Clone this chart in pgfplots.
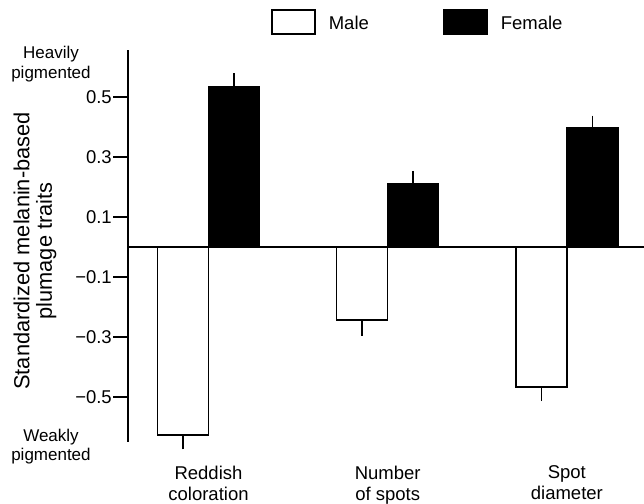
\documentclass[border=0pt]{standalone}
\usepackage{fontspec}
\setmainfont{Liberation Sans}
\usepackage{pgfplots}
\pgfplotsset{compat=1.18}

\begin{document}
\begin{tikzpicture}[font=\fontsize{18.5bp}{21bp}\selectfont]
  \useasboundingbox (0,0) rectangle (644bp,504bp);

  \begin{axis}[
    at={(127.7bp,62.3bp)}, anchor=south west,
    scale only axis,
    width=516.3bp, height=391.7bp,
    ybar=0pt,
    bar width=51bp,
    clip=false,
    enlargelimits=false,
    xmin=-0.4509, xmax=2.4305,
    ymin=-0.65, ymax=0.6557,
    %
    axis y line*=left,
    axis x line*=bottom,
    x axis line style={draw=none},
    y axis line style={line width=1.6bp},
    tick align=outside,
    major tick length=14.4bp,
    %
    xtick={0,1,2},
    xticklabels={Reddish\\coloration, Number\\of spots, Spot\\diameter},
    xticklabel style={align=center, yshift=-6.4bp},
    xtick style={draw=none},
    %
    ytick={-0.5,-0.3,-0.1,0.1,0.3,0.5},
    yticklabels={−0.5,−0.3,−0.1,0.1,0.3,0.5},
    yticklabel style={xshift=2bp},
    ytick style={line width=1.6bp, black},
    extra y ticks={0},
    extra y tick labels={},
    extra y tick style={grid=major, major tick length=0pt},
    major grid style={black, line width=1.6bp},
    %
    ylabel={Standardized melanin-based\\plumage traits},
    ylabel style={font=\fontsize{21.8bp}{22.5bp}\selectfont, align=center,
      at={(axis description cs:-0.1795,0.487)}, anchor=center},
    %
    legend columns=2,
    legend style={draw=none, fill=none, inner sep=0pt,
      at={(0.277,1.104)}, anchor=north west,
      column sep=11bp,
      /tikz/every even column/.append style={column sep=72bp}},
    legend image code/.code={\draw[#1, line width=1.6bp] (0bp,-10.9bp) rectangle (43.3bp,13.1bp);},
    ]

    % male
    \addplot[fill=white, draw=black, line width=1.6bp,
      error bars/.cd, y dir=minus, y explicit, error mark=none,
      error bar style={line width=1.6bp, black}]
      coordinates {
        (0,-0.628) +- (0,0.048)
        (1,-0.244) +- (0,0.053)
        (2,-0.467) +- (0,0.048)
      };

    % female
    \addplot[fill=black, draw=black, line width=1.6bp,
      error bars/.cd, y dir=plus, y explicit, error mark=none,
      error bar style={line width=1.6bp, black}]
      coordinates {
        (0,0.533) +- (0,0.045)
        (1,0.211) +- (0,0.042)
        (2,0.395) +- (0,0.042)
      };

    \legend{Male, Female}

    \node[font=\fontsize{17bp}{19.5bp}\selectfont, align=center]
      at (axis description cs:-0.1486,0.964) {Heavily\\pigmented};
    \node[font=\fontsize{17bp}{19.5bp}\selectfont, align=center]
      at (axis description cs:-0.1486,-0.0123) {Weakly\\pigmented};

  \end{axis}
\end{tikzpicture}
\end{document}
